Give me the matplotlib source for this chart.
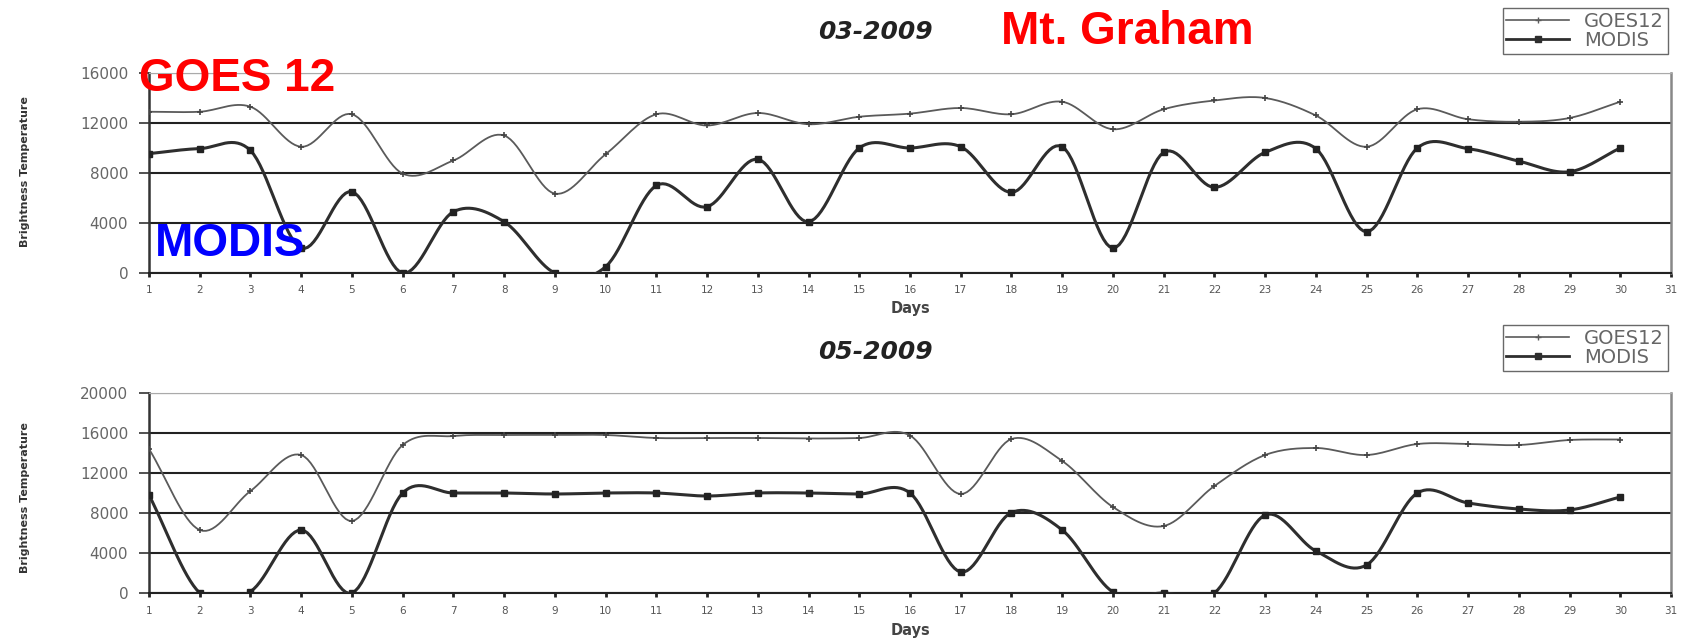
import numpy as np
import matplotlib
matplotlib.use('Agg')
import matplotlib.pyplot as plt

# 数据
days_mar = np.arange(1, 31)
goes_mar = [12900, 12900, 13300, 10100, 12700, 7950, 9000, 11000, 6350, 9500,
            12700, 11800, 12800, 11900, 12500, 12750, 13200, 12700, 13700, 11500,
            13100, 13800, 14000, 12600, 10100, 13100, 12300, 12100, 12400, 13700]
modis_mar = [9550, 9950, 9800, 2000, 6500, 0, 4900, 4100, 0, 500,
             7000, 5300, 9100, 4100, 10000, 10000, 10100, 6450, 10100, 2000,
             9650, 6850, 9650, 9950, 3300, 10000, 9950, 8950, 8100, 10000]

days_may = np.arange(1, 31)
goes_may = [14400, 6300, 10200, 13800, 7200, 14800, 15700, 15800, 15800, 15800,
            15500, 15500, 15500, 15450, 15500, 15750, 9900, 15400, 13200, 8600,
            6700, 10700, 13800, 14500, 13800, 14900, 14900, 14800, 15300, 15350]
modis_may = [9800, 0, 150, 6300, 0, 10000, 10000, 10000, 9900, 10000,
             10000, 9700, 10000, 10000, 9900, 10000, 2100, 8050, 6300, 100,
             0, 0, 7800, 4200, 2800, 10000, 9000, 8400, 8300, 9600]

day_ticks = np.arange(1, 32)

W, H = 1688, 639


# Excel 风格的平滑曲线 (Catmull-Rom)
def smooth(x, y, n=16):
    x = np.asarray(x, float)
    y = np.asarray(y, float)
    px = np.concatenate([[2 * x[0] - x[1]], x, [2 * x[-1] - x[-2]]])
    py = np.concatenate([[2 * y[0] - y[1]], y, [2 * y[-1] - y[-2]]])
    xs, ys = [], []
    t = np.linspace(0, 1, n, endpoint=False)
    for i in range(1, len(px) - 2):
        for p, out in ((px, xs), (py, ys)):
            p0, p1, p2, p3 = p[i - 1], p[i], p[i + 1], p[i + 2]
            out.extend(0.5 * (2 * p1 + (-p0 + p2) * t
                              + (2 * p0 - 5 * p1 + 4 * p2 - p3) * t ** 2
                              + (-p0 + 3 * p1 - 3 * p2 + p3) * t ** 3))
    xs.append(x[-1])
    ys.append(y[-1])
    return np.array(xs), np.array(ys)


def draw_panel(ax, days, goes, modis, ymax):
    gx, gy = smooth(days, goes)
    mx, my = smooth(days, modis)
    ax.plot(gx, gy, color='#5a5a5a', lw=1.3, zorder=3)
    ax.plot(days, goes, ls='none', marker='+', ms=5, mew=1.2, color='#444444', zorder=4)
    ax.plot(mx, my, color='#2e2e2e', lw=2.2, zorder=3)
    ax.plot(days, modis, ls='none', marker='s', ms=5, color='#222222', zorder=4)

    ax.set_xlim(1, 31)
    ax.set_ylim(0, ymax)
    ax.set_yticks(np.arange(0, ymax + 1, 4000))
    ax.set_xticks(day_ticks)
    ax.set_xticklabels([str(d) for d in day_ticks], fontsize=7.5, color='#555555')
    ax.tick_params(axis='y', labelsize=11, labelcolor='#666666', length=7,
                   width=1.2, color='#333333', pad=8)
    ax.tick_params(axis='x', length=3, width=2, color='#222222', pad=6)
    ax.grid(axis='y', color='#222222', lw=1.5)
    ax.set_axisbelow(True)
    ax.spines['top'].set_color('#aaaaaa')
    ax.spines['right'].set_color('#888888')
    ax.spines['right'].set_linewidth(1.8)
    ax.spines['left'].set_color('#333333')
    ax.spines['left'].set_linewidth(1.8)
    ax.spines['bottom'].set_color('#222222')
    ax.spines['bottom'].set_linewidth(1.5)


fig = plt.figure(figsize=(W / 100, H / 100), dpi=100)
ax1 = fig.add_axes([149 / W, 1 - 273 / H, 1522 / W, 200 / H])
ax2 = fig.add_axes([149 / W, 1 - 593 / H, 1522 / W, 200 / H])

draw_panel(ax1, days_mar, goes_mar, modis_mar, 16000)
draw_panel(ax2, days_may, goes_may, modis_may, 20000)

for ax, title, ytitle, ydays, ylab, yleg in ((ax1, '03-2009', 32, 309, 172, 8),
                                             (ax2, '05-2009', 352, 631, 498, 325)):
    fig.text(875 / W, 1 - ytitle / H, title,
             fontsize=18, fontweight='bold', fontstyle='italic',
             color='#222222', ha='center', va='center')
    fig.text(910 / W, 1 - ydays / H, 'Days', fontsize=10.5, fontweight='bold',
             color='#444444', ha='center', va='center')
    fig.text(25 / W, 1 - ylab / H, 'Brightness Temperature', fontsize=8,
             fontweight='bold', color='#333333', rotation=90,
             ha='center', va='center')
    h1, = ax.plot([], [], color='#5a5a5a', lw=1.2, marker='+', ms=5)
    h2, = ax.plot([], [], color='#2e2e2e', lw=2, marker='s', ms=4)
    fig.legend([h1, h2], ['GOES12', 'MODIS'], loc='upper right',
               bbox_to_anchor=(1668 / W, 1 - yleg / H), fontsize=14,
               frameon=True, fancybox=False, edgecolor='#444444',
               handlelength=3.2, borderpad=0.2, labelspacing=0.0,
               handletextpad=0.8, borderaxespad=0, labelcolor='#666666')

# 标注文字
fig.text(139 / W, 1 - 79 / H, 'GOES 12', fontsize=33, fontweight='bold',
         family=['Liberation Sans', 'DejaVu Sans'], color='#ff0000', va='center')
fig.text(155 / W, 1 - 244 / H, 'MODIS', fontsize=33, fontweight='bold',
         family=['Liberation Sans', 'DejaVu Sans'], color='#0000ff', va='center')
fig.text(1001 / W, 1 - 32 / H, 'Mt. Graham', fontsize=33, fontweight='bold',
         family=['Liberation Sans', 'DejaVu Sans'], color='#ff0000', va='center')

fig.savefig('out.png', dpi=100)
